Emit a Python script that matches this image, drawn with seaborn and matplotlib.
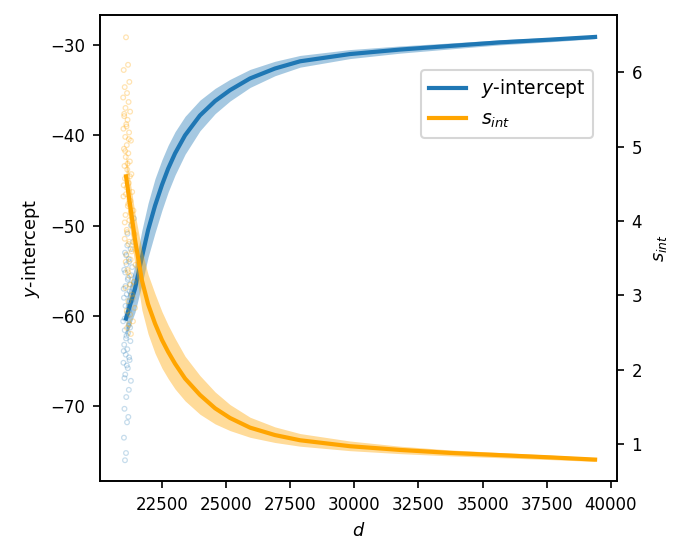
import numpy as np
import pandas as pd
import matplotlib
matplotlib.use("Agg")
import matplotlib.pyplot as plt
import seaborn as sns

# --- data ---
d_grid = [21110, 21460, 21730, 21970, 22240, 22510, 22750, 23020, 23410, 23990,
          24580, 25160, 25940, 26910, 27890, 29830, 31780, 33730, 35680, 37630, 39380]

yint_line = [-60.3, -57.0, -53.5, -50.5, -47.8, -45.5, -43.7, -42.0, -40.0, -37.8,
             -36.2, -35.0, -33.7, -32.6, -31.8, -31.0, -30.5, -30.1, -29.7, -29.4, -29.1]
yint_lo = [-62.3, -59.6, -56.5, -53.5, -50.8, -48.3, -46.3, -44.4, -42.1, -39.5,
           -37.6, -36.2, -34.7, -33.4, -32.45, -31.5, -30.9, -30.43, -29.98, -29.64, -29.3]
yint_hi = [-58.3, -54.4, -50.5, -47.5, -44.8, -42.7, -41.1, -39.6, -37.9, -36.1,
           -34.8, -33.8, -32.7, -31.8, -31.15, -30.5, -30.1, -29.77, -29.42, -29.16, -28.9]

sint_line = [4.60, 3.75, 3.20, 2.88, 2.62, 2.40, 2.24, 2.08, 1.88, 1.66,
             1.48, 1.35, 1.22, 1.12, 1.05, 0.97, 0.92, 0.88, 0.85, 0.82, 0.79]
sint_lo = [4.30, 3.40, 2.80, 2.48, 2.22, 2.02, 1.88, 1.74, 1.58, 1.40,
           1.27, 1.18, 1.09, 1.02, 0.97, 0.91, 0.87, 0.84, 0.815, 0.79, 0.765]
sint_hi = [4.90, 4.10, 3.60, 3.28, 3.02, 2.78, 2.60, 2.42, 2.18, 1.92,
           1.70, 1.53, 1.36, 1.23, 1.14, 1.04, 0.97, 0.92, 0.885, 0.85, 0.815]

# scattered samples at the smallest d values
yint_pts_d = [21070, 21110, 21030, 21150, 21200, 21050, 21120, 21220, 21300, 21080,
              21180, 21010, 21250, 21100, 21160, 21040, 21280, 21130, 21060, 21210,
              21000, 21170, 21240, 21090, 21330, 21140, 21020, 21260, 21190, 21080,
              21350, 21230, 21120, 21290, 21380, 21170, 21310, 21420,
              21050, 21140, 21230, 21020, 21110, 21190, 21270, 21060, 21150, 21210,
              21030, 21250, 21090, 21180, 21310, 21040, 21130, 21220, 21070, 21160]
yint_pts = [-76.0, -75.2, -73.5, -71.8, -71.2, -70.3, -69.0, -68.2, -67.2, -66.5,
            -65.8, -65.2, -64.9, -64.3, -63.7, -63.2, -62.8, -62.2, -61.6, -61.1,
            -60.6, -60.0, -59.4, -58.9, -58.3, -57.6, -57.0, -56.5, -55.8, -55.2,
            -54.6, -54.0, -53.3, -52.6, -51.8, -50.9, -50.0, -49.2,
            -66.9, -65.5, -64.6, -63.9, -62.5, -61.9, -61.3, -60.3, -59.7, -59.0,
            -58.0, -57.3, -56.7, -56.0, -55.5, -54.9, -54.3, -53.7, -53.0, -52.2]

sint_pts_d = [21110, 21190, 21020, 21240, 21060, 21150, 21000, 21210, 21090, 21270,
              21040, 21170, 21120, 21010, 21230, 21080, 21300, 21140, 21030, 21200,
              21100, 21260, 21050, 21160, 21320, 21070, 21220, 21130, 21350, 21010,
              21280, 21180, 21400, 21090, 21240, 21330, 21140, 21440, 21060, 21210,
              21370, 21120, 21290, 21480, 21170, 21250, 21410, 21090, 21340, 21200,
              21460, 21270, 21380, 21150, 21300,
              21040, 21130, 21220, 21080, 21170, 21260, 21020, 21110, 21200, 21290,
              21060, 21150, 21240, 21330, 21100, 21190, 21280, 21370, 21140, 21230]
sint_pts = [6.47, 6.10, 6.03, 5.87, 5.80, 5.72, 5.66, 5.60, 5.52, 5.47,
            5.41, 5.36, 5.30, 5.24, 5.19, 5.13, 5.08, 5.02, 4.97, 4.91,
            4.86, 4.80, 4.74, 4.69, 4.63, 4.57, 4.51, 4.45, 4.39, 4.33,
            4.27, 4.20, 4.14, 4.08, 4.01, 3.95, 3.88, 3.82, 3.76, 3.69,
            3.62, 3.55, 3.48, 3.41, 3.34, 3.26, 3.18, 3.10, 3.01, 2.92,
            2.83, 2.74, 2.65, 2.56, 2.48,
            5.44, 5.27, 5.10, 4.94, 4.77, 4.60, 4.48, 4.36, 4.23, 4.11,
            3.98, 3.85, 3.72, 3.59, 3.45, 3.31, 3.14, 2.97, 2.79, 2.61]

BLUE = "#1f77b4"
ORANGE = "orange"

line_df = pd.DataFrame({"d": d_grid, "yint": yint_line, "sint": sint_line})
ypts_df = pd.DataFrame({"d": yint_pts_d, "yint": yint_pts})
spts_df = pd.DataFrame({"d": sint_pts_d, "sint": sint_pts})

plt.rcParams["font.family"] = ["DejaVu Sans"]
plt.rcParams["mathtext.fontset"] = "dejavusans"

fig = plt.figure(figsize=(4.5, 541 / 150), dpi=150)
ax = fig.add_axes([100 / 675, 1 - 481 / 541, 517 / 675, 466 / 541])
ax2 = ax.twinx()

# bands of sampled curves
ax.fill_between(d_grid, yint_lo, yint_hi, color=BLUE, alpha=0.4, lw=0)
ax2.fill_between(d_grid, sint_lo, sint_hi, color=ORANGE, alpha=0.4, lw=0)

sns.scatterplot(data=ypts_df, x="d", y="yint", ax=ax, marker="o", s=5,
                facecolors="none", edgecolor=BLUE, linewidth=0.6, alpha=0.25)
sns.scatterplot(data=spts_df, x="d", y="sint", ax=ax2, marker="o", s=5,
                facecolors="none", edgecolor=ORANGE, linewidth=0.6, alpha=0.3)

sns.lineplot(data=line_df, x="d", y="yint", ax=ax, color=BLUE, lw=2.0,
             label="$y$-intercept", legend=False)
sns.lineplot(data=line_df, x="d", y="sint", ax=ax2, color=ORANGE, lw=2.0,
             label="$s_{int}$", legend=False)

ax.set_xlim(20097, 40234)
ax.set_ylim(-78.3, -26.67)
ax2.set_ylim(0.502, 6.77)
ax.set_xticks([22500, 25000, 27500, 30000, 32500, 35000, 37500, 40000])
ax.set_yticks([-30, -40, -50, -60, -70])
ax2.set_yticks([1, 2, 3, 4, 5, 6])

ax.tick_params(labelsize=8)
ax2.tick_params(labelsize=8)
ax.set_xlabel("$d$", fontsize=8.5)
ax.set_ylabel("$y$-intercept", fontsize=8.5)
ax2.set_ylabel("$s_{int}$", fontsize=8.5)

h1, l1 = ax.get_legend_handles_labels()
h2, l2 = ax2.get_legend_handles_labels()
ax2.legend(h1 + h2, l1 + l2, loc="upper left", bbox_to_anchor=(0.621, 0.882),
           borderaxespad=0, fontsize=9)

fig.savefig("out.png", dpi=150)
